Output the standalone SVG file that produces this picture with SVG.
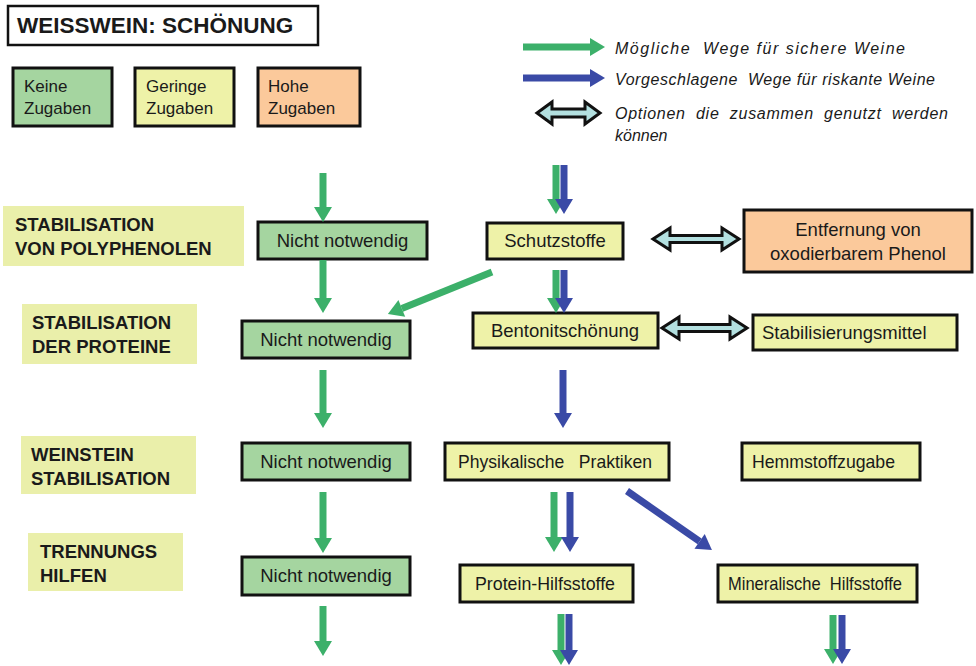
<svg xmlns="http://www.w3.org/2000/svg" width="976" height="666" viewBox="0 0 976 666">
<defs>
<style>
.t{font-family:"Liberation Sans",Arial,sans-serif;font-size:18.5px;fill:#1a1a1a}
.b{font-family:"Liberation Sans",Arial,sans-serif;font-size:18.5px;font-weight:bold;fill:#1a1a1a}
.i{font-family:"Liberation Sans",Arial,sans-serif;font-size:16px;font-style:italic;fill:#1a1a1a;white-space:pre}
.lg{font-family:"Liberation Sans",Arial,sans-serif;font-size:17px;fill:#1a1a1a}
.pre{white-space:pre}
.box{stroke:#111;stroke-width:3}
.g{fill:#a5d5a0}
.y{fill:#eef2a8}
.o{fill:#fbc99b}
.lab{fill:#eaefaa}
.ga{stroke:#3cb06a;stroke-width:7;fill:none}
.ba{stroke:#3a4aa6;stroke-width:7;fill:none}
.dbl{fill:#b3e0e0;stroke:#111;stroke-width:3;stroke-linejoin:miter}
</style>
<marker id="gh" markerUnits="userSpaceOnUse" markerWidth="16" markerHeight="20" refX="0" refY="10" orient="auto" overflow="visible">
<path d="M0,1 L15,10 L0,19 z" fill="#3cb06a"/>
</marker>
<marker id="bh" markerUnits="userSpaceOnUse" markerWidth="16" markerHeight="20" refX="0" refY="10" orient="auto" overflow="visible">
<path d="M0,1 L15,10 L0,19 z" fill="#3a4aa6"/>
</marker>
</defs>
<rect width="976" height="666" fill="#fff"/>

<g id="title">
<rect x="8" y="6" width="310" height="39" fill="#fff" stroke="#111" stroke-width="2.5"/>
<text x="17" y="33" class="b" style="font-size:22.5px">WEISSWEIN: SCHÖNUNG</text>
</g>

<g id="legend-keine">
<rect x="13" y="68" width="99" height="58" class="box g"/>
<text x="24" y="92" class="lg">Keine</text>
<text x="24" y="114" class="lg">Zugaben</text>
</g>
<g id="legend-geringe">
<rect x="135" y="68" width="99" height="58" class="box y"/>
<text x="146" y="92" class="lg">Geringe</text>
<text x="146" y="114" class="lg">Zugaben</text>
</g>
<g id="legend-hohe">
<rect x="258" y="68" width="102" height="58" class="box o"/>
<text x="268" y="92" class="lg">Hohe</text>
<text x="268" y="114" class="lg">Zugaben</text>
</g>

<g id="legend-lines">
<text x="615" y="54" class="i" xml:space="preserve" textLength="290" lengthAdjust="spacing">Mögliche  Wege für sichere Weine</text>
<text x="615" y="85" class="i" xml:space="preserve" textLength="320" lengthAdjust="spacing">Vorgeschlagene  Wege für riskante Weine</text>
<text x="615" y="119" class="i" xml:space="preserve" textLength="333" lengthAdjust="spacing">Optionen  die  zusammen  genutzt  werden</text>
<text x="615" y="141" class="i">können</text>
</g>

<g id="row-labels">
<g id="label-polyphenole">
<rect x="3" y="206" width="241" height="60" class="lab"/>
<text x="15" y="231" class="b">STABILISATION</text>
<text x="15" y="255" class="b">VON POLYPHENOLEN</text>
</g>
<g id="label-proteine">
<rect x="22" y="304" width="175" height="60" class="lab"/>
<text x="32" y="329" class="b">STABILISATION</text>
<text x="32" y="353" class="b">DER PROTEINE</text>
</g>
<g id="label-weinstein">
<rect x="21" y="436" width="175" height="58" class="lab"/>
<text x="31" y="461" class="b">WEINSTEIN</text>
<text x="31" y="485" class="b">STABILISATION</text>
</g>
<g id="label-trennung">
<rect x="28" y="533" width="155" height="58" class="lab"/>
<text x="40" y="558" class="b">TRENNUNGS</text>
<text x="40" y="582" class="b">HILFEN</text>
</g>
</g>

<g id="n1">
<rect x="258" y="222" width="169" height="37" class="box g"/>
<text x="342.5" y="247" class="t" text-anchor="middle">Nicht notwendig</text>
</g>
<g id="n2">
<rect x="242" y="321" width="168" height="37" class="box g"/>
<text x="326" y="346" class="t" text-anchor="middle">Nicht notwendig</text>
</g>
<g id="n3">
<rect x="242" y="443" width="168" height="37" class="box g"/>
<text x="326" y="468" class="t" text-anchor="middle">Nicht notwendig</text>
</g>
<g id="n4">
<rect x="242" y="557" width="168" height="38" class="box g"/>
<text x="326" y="582" class="t" text-anchor="middle">Nicht notwendig</text>
</g>
<g id="schutz">
<rect x="487" y="223" width="136" height="36" class="box y"/>
<text x="555" y="247" class="t" text-anchor="middle">Schutzstoffe</text>
</g>
<g id="entfernung">
<rect x="744" y="210" width="228" height="62" class="box o"/>
<text x="858" y="236" class="t" text-anchor="middle">Entfernung von</text>
<text x="858" y="260" class="t" text-anchor="middle">oxodierbarem Phenol</text>
</g>
<g id="bentonit">
<rect x="473" y="313" width="185" height="35" class="box y"/>
<text x="565" y="337" class="t" text-anchor="middle">Bentonitschönung</text>
</g>
<g id="stabmittel">
<rect x="753" y="315" width="204" height="35" class="box y"/>
<text x="762" y="339" class="t">Stabilisierungsmittel</text>
</g>
<g id="physik">
<rect x="445" y="443" width="224" height="37" class="box y"/>
<text x="458" y="468" class="t pre" xml:space="preserve" textLength="194" lengthAdjust="spacingAndGlyphs">Physikalische   Praktiken</text>
</g>
<g id="hemm">
<rect x="742" y="443" width="178" height="37" class="box y"/>
<text x="752" y="468" class="t" textLength="143" lengthAdjust="spacingAndGlyphs">Hemmstoffzugabe</text>
</g>
<g id="protein">
<rect x="460" y="565" width="173" height="37" class="box y"/>
<text x="475" y="590" class="t" textLength="140" lengthAdjust="spacingAndGlyphs">Protein-Hilfsstoffe</text>
</g>
<g id="mineral">
<rect x="718" y="565" width="199" height="37" class="box y"/>
<text x="728" y="590" class="t pre" xml:space="preserve" textLength="174" lengthAdjust="spacingAndGlyphs">Mineralische  Hilfsstoffe</text>
</g>

<g id="connectors">
<line x1="523" y1="47" x2="590" y2="47" class="ga" marker-end="url(#gh)"/>
<line x1="523" y1="78" x2="590" y2="78" class="ba" marker-end="url(#bh)"/>
<polygon class="dbl" points="537,113 552,102 552,109 585,109 585,102 600,113 585,124 585,117 552,117 552,124"/>

<line x1="323" y1="173" x2="323" y2="207" class="ga" marker-end="url(#gh)"/>
<line x1="323" y1="260" x2="323" y2="298" class="ga" marker-end="url(#gh)"/>
<line x1="492" y1="272" x2="401.8" y2="308.4" class="ga" marker-end="url(#gh)"/>
<line x1="323" y1="370" x2="323" y2="413" class="ga" marker-end="url(#gh)"/>
<line x1="323" y1="492" x2="323" y2="538" class="ga" marker-end="url(#gh)"/>
<line x1="323" y1="606" x2="323" y2="641" class="ga" marker-end="url(#gh)"/>
<line x1="556" y1="165" x2="556" y2="199" class="ga" marker-end="url(#gh)"/>
<line x1="556" y1="270" x2="556" y2="298" class="ga" marker-end="url(#gh)"/>
<line x1="554" y1="492" x2="554" y2="537" class="ga" marker-end="url(#gh)"/>
<line x1="561" y1="614" x2="561" y2="650" class="ga" marker-end="url(#gh)"/>
<line x1="833" y1="615" x2="833" y2="649" class="ga" marker-end="url(#gh)"/>

<line x1="564" y1="165" x2="564" y2="199" class="ba" marker-end="url(#bh)"/>
<line x1="564" y1="270" x2="564" y2="298" class="ba" marker-end="url(#bh)"/>
<line x1="563" y1="370" x2="563" y2="413" class="ba" marker-end="url(#bh)"/>
<line x1="570" y1="492" x2="570" y2="537" class="ba" marker-end="url(#bh)"/>
<line x1="569" y1="614" x2="569" y2="650" class="ba" marker-end="url(#bh)"/>
<line x1="842" y1="615" x2="842" y2="649" class="ba" marker-end="url(#bh)"/>
<line x1="627" y1="491" x2="699.6" y2="541.4" class="ba" marker-end="url(#bh)"/>

<polygon class="dbl" points="653,239 670,228 670,235.5 722,235.5 722,228 739,239 722,250 722,242.5 670,242.5 670,250"/>
<polygon class="dbl" points="662,328 679,317 679,324.5 730,324.5 730,317 747,328 730,339 730,331.5 679,331.5 679,339"/>
</g>
</svg>
